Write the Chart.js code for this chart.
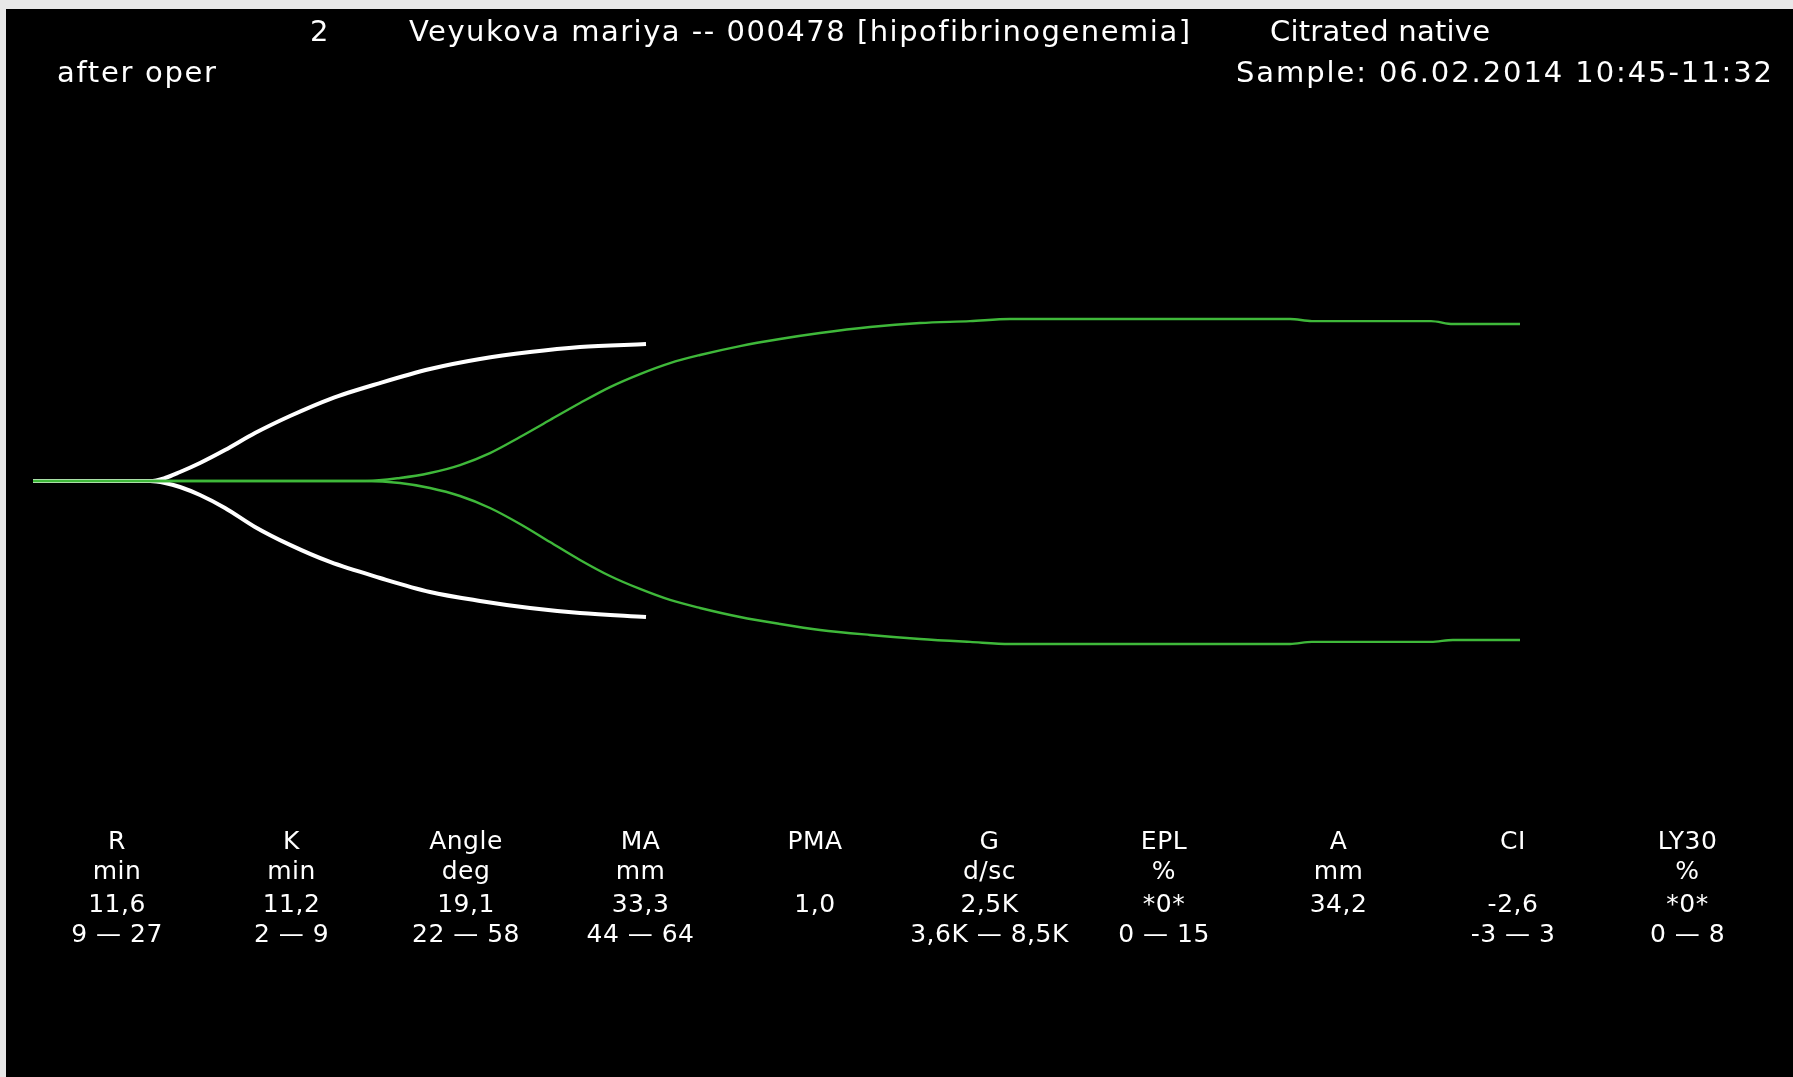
<!DOCTYPE html>
<html>
<head>
<meta charset="utf-8">
<title>TEG trace</title>
<script src="https://cdn.jsdelivr.net/npm/chart.js@4.4.1/dist/chart.umd.min.js"></script>
<style>
  html, body { margin: 0; padding: 0; }
  body { width: 1793px; height: 1077px; background: #e8e8e8; overflow: hidden; position: relative;
         font-family: "DejaVu Sans", sans-serif; color: #fff; }
  #screen { position: absolute; left: 6px; top: 9px; right: 0; bottom: 0; background: #000; }
  #teg { position: absolute; left: 0; top: 0; }
  .t { position: absolute; white-space: nowrap; line-height: 1; transform: translateY(-50%); }
  .hdr { font-size: 29px; }
  .cell { font-size: 25px; letter-spacing: 0.5px; transform: translate(-50%, -50%); text-align: center; }
</style>
</head>
<body>
<div id="screen"></div>
<canvas id="teg" width="1793" height="1077"></canvas>
<div id="labels"></div>

<script>
// white trace (time in min, half-amplitude in mm)
const whiteTime  = [0, 11.7, 13.2, 14.7, 16.7, 19.2, 22.2, 25.7, 29.7, 34.7, 39.7, 44.7, 49.7, 54.7, 61.3];
const whiteUpper = [0, 0, 0.37, 1.1, 2.2, 3.78, 5.85, 7.93, 10.0, 11.95, 13.66, 14.88, 15.73, 16.34, 16.71];
const whiteLower = [0, 0, -0.24, -0.73, -1.71, -3.29, -5.61, -7.8, -9.88, -11.83, -13.54, -14.63, -15.49, -16.1, -16.59];

// green trace
const greenTime  = [0, 33.3, 36.7, 39.7, 42.7, 45.7, 48.7, 51.7, 54.7, 57.7, 60.7, 63.7, 66.7, 70.7, 74.7, 78.7, 83.7, 88.7, 93.7, 97.7, 125.7, 127.9, 139.8, 142.0, 148.7];
const greenUpper = [0, 0, 0.37, 0.98, 1.95, 3.41, 5.37, 7.44, 9.51, 11.46, 13.05, 14.39, 15.37, 16.46, 17.32, 18.05, 18.78, 19.27, 19.51, 19.76, 19.76, 19.51, 19.51, 19.15, 19.15];
const greenLower = [0, 0, -0.24, -0.85, -1.83, -3.29, -5.24, -7.44, -9.63, -11.59, -13.17, -14.51, -15.49, -16.59, -17.44, -18.17, -18.78, -19.27, -19.63, -19.88, -19.88, -19.63, -19.63, -19.39, -19.39];

// header
const sampleNo = '2';
const patient = 'Veyukova mariya -- 000478 [hipofibrinogenemia]';
const sampleType = 'Citrated native';
const note = 'after oper';
const sampleTime = 'Sample: 06.02.2014 10:45-11:32';

// parameter table
const paramNames  = ['R', 'K', 'Angle', 'MA', 'PMA', 'G', 'EPL', 'A', 'CI', 'LY30'];
const paramUnits  = ['min', 'min', 'deg', 'mm', '', 'd/sc', '%', 'mm', '', '%'];
const paramValues = ['11,6', '11,2', '19,1', '33,3', '1,0', '2,5K', '*0*', '34,2', '-2,6', '*0*'];
const paramRanges = ['9 — 27', '2 — 9', '22 — 58', '44 — 64', '', '3,6K — 8,5K', '0 — 15', '', '-3 — 3', '0 — 8'];

const WHITE = '#ffffff', GREEN = '#3fb83a';
const pts = (xs, ys) => xs.map((x, i) => ({ x, y: ys[i] }));
const line = (xs, ys, color, w, order) => ({
  data: pts(xs, ys), borderColor: color, borderWidth: w, pointRadius: 0,
  cubicInterpolationMode: 'monotone', fill: false, order,
});

new Chart(document.getElementById('teg'), {
  type: 'line',
  data: {
    datasets: [
      line(whiteTime, whiteUpper, WHITE, 4, 1),
      line(whiteTime, whiteLower, WHITE, 4, 1),
      line(greenTime, greenUpper, GREEN, 2.4, 0),
      line(greenTime, greenLower, GREEN, 2.4, 0),
    ],
  },
  options: {
    responsive: false, animation: false,
    layout: { padding: { left: 33, right: 0, top: 231, bottom: 346 } },
    plugins: { legend: { display: false }, tooltip: { enabled: false } },
    scales: {
      x: { type: 'linear', min: 0, max: 176, display: false },
      y: { min: -30.5, max: 30.5, display: false },
    },
  },
});

// text
const box = document.getElementById('labels');
function put(text, cls, x, y, right) {
  const d = document.createElement('div');
  d.className = 't ' + cls;
  d.textContent = text;
  d.style.left = x + 'px';
  d.style.top = y + 'px';
  box.appendChild(d);
  if (right) {
    const nat = d.getBoundingClientRect().width;
    d.style.letterSpacing = ((right - x - nat) / (text.length - 1)) + 'px';
  }
  return d;
}

put(sampleNo, 'hdr', 310, 31);
put(patient, 'hdr', 409, 31, 1190);
put(sampleType, 'hdr', 1270, 31, 1490);
put(note, 'hdr', 57, 72, 216);
put(sampleTime, 'hdr', 1236, 72, 1772);

const rowY = [840, 870, 903, 933];
paramNames.forEach((name, i) => {
  const cx = 117 + i * 174.5;
  [name, paramUnits[i], paramValues[i], paramRanges[i]].forEach((s, r) => {
    if (s) put(s, 'cell', cx, rowY[r]);
  });
});
</script>
</body>
</html>
